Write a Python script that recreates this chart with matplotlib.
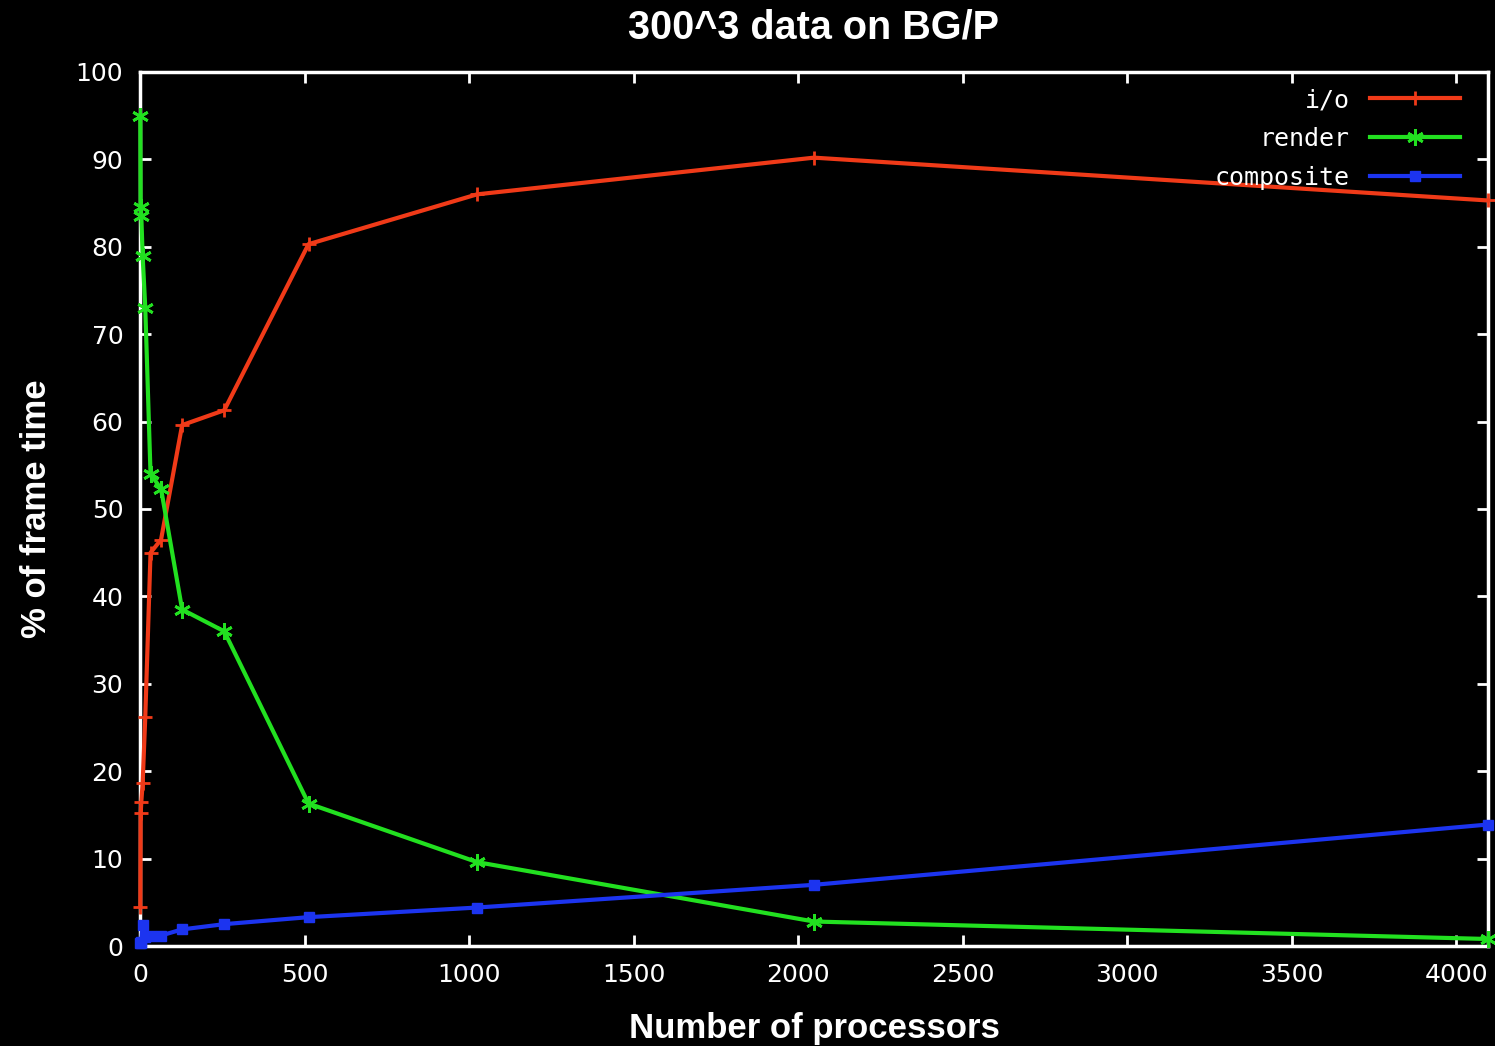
import matplotlib
matplotlib.use("Agg")
import matplotlib.pyplot as plt

procs = [1, 2, 4, 8, 16, 32, 64, 128, 256, 512, 1024, 2048, 4096]
io = [4.5, 15.2, 16.5, 18.6, 26.2, 45.0, 46.5, 59.6, 61.3, 80.3, 86.0, 90.2, 85.3]
render = [95.0, 84.5, 83.5, 79.0, 73.0, 54.0, 52.3, 38.5, 36.0, 16.3, 9.6, 2.8, 0.8]
composite = [0.4, 0.3, 0.5, 2.4, 1.0, 1.2, 1.2, 1.9, 2.5, 3.3, 4.4, 7.0, 13.9]

xticks = [0, 500, 1000, 1500, 2000, 2500, 3000, 3500, 4000]
yticks = [0, 10, 20, 30, 40, 50, 60, 70, 80, 90, 100]

fig = plt.figure(figsize=(14.95, 10.46), dpi=100, facecolor="black")
ax = fig.add_axes([140/1495, 100/1046, (1488-140)/1495, (946-72)/1046])
ax.set_facecolor("black")

ax.plot(procs, io, color="#f03a18", lw=3, marker="+", ms=10, mew=2, label="i/o", clip_on=False)
ax.plot(procs, render, color="#22e020", lw=3, marker=(6, 2, 0), ms=12, mew=2, label="render", clip_on=False)
ax.plot(procs, composite, color="#1c34f0", lw=3, marker="s", ms=7, mew=1, label="composite", clip_on=False)

ax.set_xlim(0, 4096)
ax.set_ylim(0, 100)
ax.set_xticks(xticks)
ax.set_yticks(yticks)
for s in ax.spines.values():
    s.set_color("white")
    s.set_linewidth(2.5)
    s.set_zorder(1)
ax.tick_params(direction="in", length=8, width=2, colors="white", top=True, right=True,
               labelsize=18, pad=12)

font_bold = ["Liberation Sans", "DejaVu Sans"]
ax.set_title("300^3 data on BG/P", color="white", fontsize=28.5, fontweight="bold", pad=24,
             family=font_bold)
ax.set_xlabel("Number of processors", color="white", fontsize=25, fontweight="bold", labelpad=18,
              family=font_bold)
ax.set_ylabel("% of frame time", color="white", fontsize=25, fontweight="bold", labelpad=16,
              family=font_bold)

leg = ax.legend(loc="upper right", bbox_to_anchor=(0.991, 1.0), frameon=False, markerfirst=False,
                handlelength=3.6, labelspacing=0.6, borderaxespad=0.25,
                prop={"family": "DejaVu Sans Mono", "size": 18})
for t in leg.get_texts():
    t.set_color("white")

fig.savefig("out.png", dpi=100, facecolor="black")
